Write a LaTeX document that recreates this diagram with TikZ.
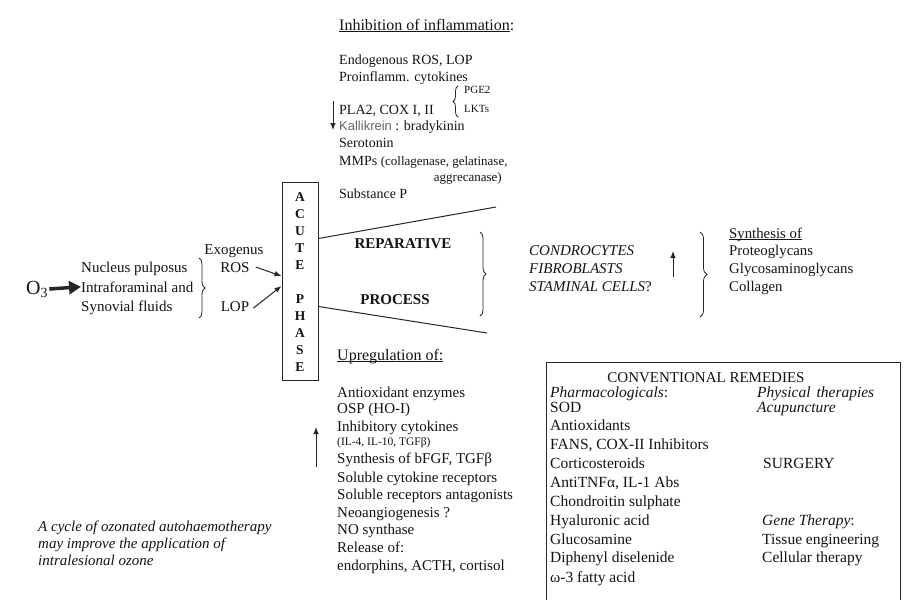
\documentclass[tikz,border=0pt]{standalone}
\usepackage{fontspec}
\setmainfont{Liberation Serif}
\newfontfamily\sansf{Liberation Sans}
\usetikzlibrary{arrows.meta,decorations.pathreplacing,calc}
\newcommand\fs[1]{\fontsize{#1}{#1}\selectfont}
\newcommand\myul[1]{\underline{\smash{#1}}}
\begin{document}
\begin{tikzpicture}[x=1pt,y=-1pt,
  every node/.style={inner sep=0pt,text=black!92},
  inh/.style={anchor=base west,font=\fs{14}},
  up/.style={anchor=base west,font=\fs{15}},
  rem/.style={anchor=base west,font=\fs{15.5}},
  hdr/.style={anchor=base west,font=\fs{16}},
  itl/.style={anchor=base west,font=\fs{15}\itshape},
  ln/.style={line width=1pt,draw=black!85},
  arr/.style={ln,-{Latex[length=7pt,width=5.5pt]}},
  brc/.style={ln,line width=0.8pt,decorate,decoration={brace,amplitude=#1}},
]
\fill[white] (0,0) rectangle (906,600);
\useasboundingbox (0,0) rectangle (906,600);

% Inhibition of inflammation
\node[hdr] (ih) at (339,30) {\myul{Inhibition of inflammation}:};
\node[inh] (i1) at (339,64) {Endogenous ROS, LOP};
\node[inh] (i2) at (339,81) {Proinflamm. cytokines};
\node[inh] (i3) at (339,114) {PLA2, COX I, II};
\node[anchor=base west,font=\fs{11}] (pge) at (464,93) {PGE2};
\node[anchor=base west,font=\fs{11}] (lkt) at (464,112) {LKTs};
\coordinate (bi1) at (458,117);
\coordinate (bi2) at (458,86);
\draw[brc=5] (bi1) -- (bi2);
\node[inh] (i4) at (339,130) {{\sansf\fs{13}\color{black!60}Kallikrein} : bradykinin};
\node[inh] (i5) at (339,147) {Serotonin};
\node[inh] (i6) at (339,165) {MMPs {\fs{13}(collagenase, gelatinase,}};
\node[anchor=base east,font=\fs{13}] (i7) at (502,181) {aggrecanase)};
\node[inh] (i8) at (339,198) {Substance P};
\coordinate (dA) at (333,101);
\coordinate (dB) at (333,130);
\draw[arr] (dA) -- (dB);

% Acute phase box
\node[draw=black!85,line width=1pt,minimum width=36pt,minimum height=198pt] (ap) at (300,281) {};
\node[align=center,font=\fontsize{13.5}{17}\selectfont\bfseries] (apt) at (300,282)
  {A\\C\\U\\T\\E\\[17pt]P\\H\\A\\S\\E};
\coordinate (uE) at (496,207);
\coordinate (lE) at (487,333);
\draw[ln] ($(ap.north east)+(0,57)$) -- (uE);
\draw[ln] ($(ap.north east)+(0,125)$) -- (lE);

% Left part
\node[anchor=base west,font=\fs{20}] (o3) at (26,294) {O\textsubscript{3}};
\node[anchor=base west,font=\fs{15}] (n1) at (81,272) {Nucleus pulposus};
\node[anchor=base west,font=\fs{15}] (n2) at (81,292) {Intraforaminal and};
\node[anchor=base west,font=\fs{15}] (n3) at (81,311) {Synovial fluids};
\draw[line width=3.5pt,draw=black!85,-{Triangle[length=12pt,width=13pt]}] ([xshift=1pt]o3.east) -- (n2.west);
\coordinate (bl1) at (199,258);
\coordinate (bl2) at (199,318);
\draw[brc=6] (bl1) -- (bl2);
\node[anchor=base,font=\fs{15}] (exo) at (234,254) {Exogenus};
\node[anchor=base,font=\fs{15}] (ros) at (235,272) {ROS};
\node[anchor=base,font=\fs{15}] (lop) at (235,311) {LOP};
\draw[arr] ([xshift=6pt]ros.east) -- ($(ap.west)+(0,-5)$);
\draw[arr] ([xshift=4pt,yshift=-2pt]lop.east) -- ($(ap.west)+(0,5)$);

% Reparative process
\node[anchor=base,font=\fs{15}\bfseries] (rep) at (403,248) {REPARATIVE};
\node[anchor=base,font=\fs{15}\bfseries] (pro) at (395,304) {PROCESS};
\coordinate (bm1) at (480,232);
\coordinate (bm2) at (480,316);
\draw[brc=6] (bm1) -- (bm2);
\node[itl] (c1) at (529,255) {CONDROCYTES};
\node[itl] (c2) at (529,273) {FIBROBLASTS};
\node[itl] (c3) at (529,291) {STAMINAL CELLS\upshape ?};
\coordinate (ua1) at (673,277);
\coordinate (ua2) at (673,251);
\draw[arr] (ua1) -- (ua2);
\coordinate (br1) at (700,232);
\coordinate (br2) at (700,317);
\draw[brc=7] (br1) -- (br2);
\node[anchor=base west,font=\fs{14.8}] (s0) at (729,238) {\myul{Synthesis of}};
\node[anchor=base west,font=\fs{14.8}] (s1) at (729,255) {Proteoglycans};
\node[anchor=base west,font=\fs{14.8}] (s2) at (729,273) {Glycosaminoglycans};
\node[anchor=base west,font=\fs{14.8}] (s3) at (729,291) {Collagen};

% Upregulation
\node[hdr] (uh) at (337,360) {\myul{Upregulation of:}};
\node[up] (u1) at (337,397) {Antioxidant enzymes};
\node[up] (u2) at (337,413) {OSP (HO-I)};
\node[up] (u3) at (337,431) {Inhibitory cytokines};
\node[anchor=base west,font=\fs{11.5}] (u3s) at (337,445) {(IL-4, IL-10, TGFβ)};
\node[up] (u4) at (337,463) {Synthesis of bFGF, TGFβ};
\node[up] (u5) at (337,482) {Soluble cytokine receptors};
\node[up] (u6) at (337,499) {Soluble receptors antagonists};
\node[up] (u7) at (337,517) {Neoangiogenesis ?};
\node[up] (u8) at (337,534) {NO synthase};
\node[up] (u9) at (337,552) {Release of:};
\node[up] (u10) at (337,570) {endorphins, ACTH, cortisol};
\coordinate (uu1) at (316,467);
\coordinate (uu2) at (316,427);
\draw[arr] (uu1) -- (uu2);

% Bottom-left note
\node[itl] (b1) at (38,531) {A cycle of ozonated autohaemotherapy};
\node[itl] (b2) at (38,548) {may improve the application of};
\node[itl] (b3) at (38,565) {intralesional ozone};

% Conventional remedies
\coordinate (k1) at (546,600);
\coordinate (k2) at (546,362);
\coordinate (k3) at (900,362);
\coordinate (k4) at (900,600);
\draw[ln] (k1) -- (k2) -- (k3) -- (k4);
\node[anchor=base,font=\fs{15}] (cr) at (706,382) {CONVENTIONAL REMEDIES};
\node[rem] (p0) at (550,397) {\itshape Pharmacologicals\upshape:};
\node[rem] (p1) at (550,412) {SOD};
\node[rem] (p2) at (550,430) {Antioxidants};
\node[rem] (p3) at (550,449) {FANS, COX-II Inhibitors};
\node[rem] (p4) at (550,468) {Corticosteroids};
\node[rem] (p5) at (550,487) {AntiTNFα, IL-1 Abs};
\node[rem] (p6) at (550,506) {Chondroitin sulphate};
\node[rem] (p7) at (550,525) {Hyaluronic acid};
\node[rem] (p8) at (550,544) {Glucosamine};
\node[rem] (p9) at (550,562) {Diphenyl diselenide};
\node[rem] (p10) at (550,582) {ω-3 fatty acid};
\node[rem] (r1) at (757,397) {\itshape Physical\hspace{6pt}therapies};
\node[rem] (r2) at (757,412) {\itshape Acupuncture};
\node[rem] (r3) at (763,468) {SURGERY};
\node[rem] (r4) at (762,525) {\itshape Gene Therapy\upshape:};
\node[rem] (r5) at (762,544) {Tissue engineering};
\node[rem] (r6) at (762,562) {Cellular therapy};
\end{tikzpicture}
\end{document}
